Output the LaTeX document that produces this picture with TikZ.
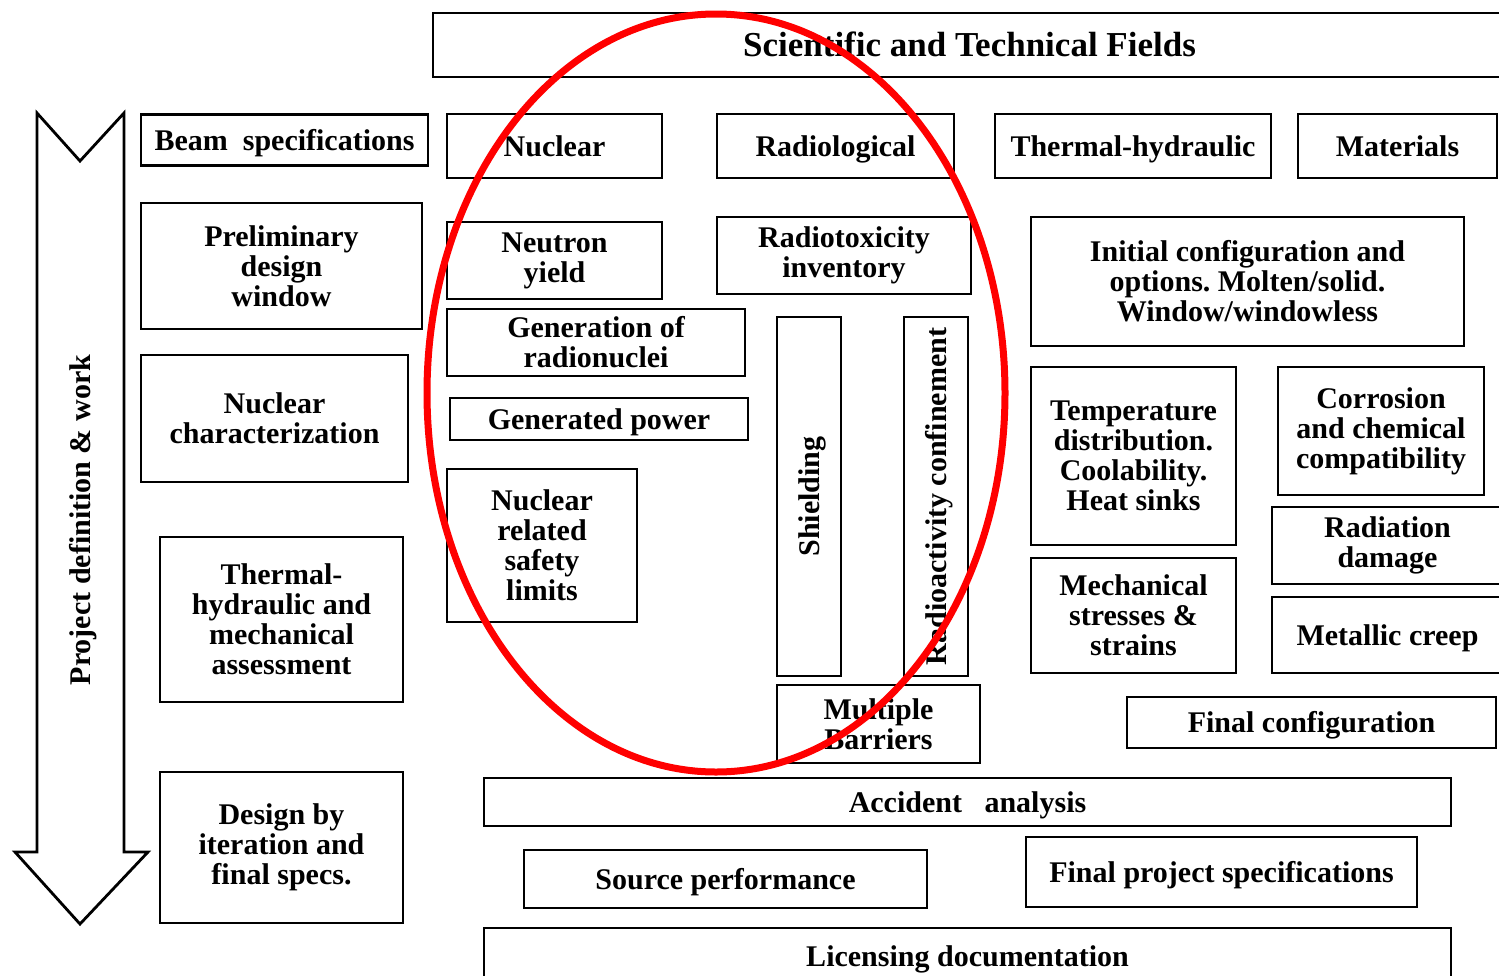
\documentclass[tikz,border=0pt]{standalone}
\usepackage{fontspec}
\setmainfont{Liberation Serif}
\frenchspacing
\usetikzlibrary{positioning}
\tikzset{
    x=0.5pt, y=-0.5pt, % one unit per grid step, y runs downwards
    txt/.style={font=\bfseries\fontsize{15}{15}\selectfont, align=center}, % bold centred labels
    one/.style={text height=10pt, text depth=0pt}, % single lines sit on their capitals
    blk/.style 2 args={draw, line width=1.4pt, txt, inner sep=0pt,
        minimum width=#1*0.5pt, minimum height=#2*0.5pt}, % framed block, width and height in grid steps
    vblk/.style 2 args={blk={#2}{#1}, one, rotate=90}, % upright block with its text turned
    ring/.style={draw=red, line width=3.5pt}, % the red ring over the middle columns
}

\begin{document}
\begin{tikzpicture}
    \useasboundingbox (0,0) rectangle (1499,975);
    % project arrow down the left side
    \draw[line width=1.4pt] (37,113) -- (80,161) -- (124,113) -- (124,852) -- (148,852)
        -- (80,924) -- (15,852) -- (37,852) -- cycle;
    \node[txt, one, rotate=90] (projlbl) at (80,520) {Project definition \& work};
    % header
    \node[blk={1073}{64}, font=\bfseries\fontsize{17.5}{18}\selectfont, text height=11.5pt, text depth=0pt] (fields) at (969.5,45) {Scientific and Technical Fields};
    % left column
    \node[blk={287}{51}, one] (beam) at (284.5,140) {Beam\ \ specifications};
    \node[blk={281}{126}] (prelim) at (281.5,266) {Preliminary\\design\\window};
    \node[blk={267}{127}] (nuchar) at (274.5,418.5) {Nuclear\\characterization};
    \node[blk={243}{165}] (thmech) at (281.5,619.5) {Thermal-\\hydraulic and\\mechanical\\assessment};
    \node[blk={243}{151}] (design) at (281.5,847.5) {Design by\\iteration and\\final specs.};
    % field headings
    \node[blk={215}{64}, one] (nuclear) at (554.5,146) {Nuclear};
    \node[blk={237}{64}, one] (radiol) at (835.5,146) {Radiological};
    \node[blk={276}{64}, one] (thermal) at (1133,146) {Thermal-hydraulic};
    \node[blk={199}{64}, one] (materials) at (1397.5,146) {Materials};
    % nuclear and radiological topics
    \node[blk={215}{77}] (neutron) at (554.5,260.5) {Neutron\\yield};
    \node[blk={254}{77}] (radtox) at (844,255.5) {Radiotoxicity\\inventory};
    \node[blk={298}{67}] (genrad) at (596,342.5) {Generation of\\radionuclei};
    \node[blk={298}{42}, one] (genpow) at (599,419) {Generated power};
    \node[blk={190}{153}] (safety) at (542,545.5) {Nuclear\\related\\safety\\limits};
    \node[vblk={64}{359}] (shield) at (809,496.5) {Shielding};
    \node[vblk={64}{359}] (confine) at (936,496.5) {Radioactivity confinement};
    \node[blk={203}{78}] (barriers) at (878.5,724) {Multiple\\Barriers};
    % thermal-hydraulic and materials topics
    \node[blk={433}{129}] (initcfg) at (1247.5,281.5) {Initial configuration and\\options. Molten/solid.\\Window/windowless};
    \node[blk={205}{178}] (temp) at (1133.5,456) {Temperature\\distribution.\\Coolability.\\Heat sinks};
    \node[blk={206}{128}] (corros) at (1381,431) {Corrosion\\and chemical\\compatibility};
    \node[blk={231}{77}] (raddam) at (1387.5,545.5) {Radiation\\damage};
    \node[blk={205}{115}] (mech) at (1133.5,615.5) {Mechanical\\stresses \&\\strains};
    \node[blk={231}{76}, one] (creep) at (1387.5,635) {Metallic creep};
    \node[blk={369}{51}, one] (finalcfg) at (1311.5,722.5) {Final configuration};
    % closing stages
    \node[blk={967}{48}, one] (accident) at (967.5,802) {Accident\ \ \ analysis};
    \node[blk={403}{58}, one] (source) at (725.5,879) {Source performance};
    \node[blk={391}{70}, one] (finalspec) at (1221.5,872) {Final project specifications};
    \node[blk={967}{57}, one] (licensing) at (967.5,956.5) {Licensing documentation};
    % highlight
    \draw[ring] (716,393) ellipse [x radius=289, y radius=379];
\end{tikzpicture}
\end{document}
